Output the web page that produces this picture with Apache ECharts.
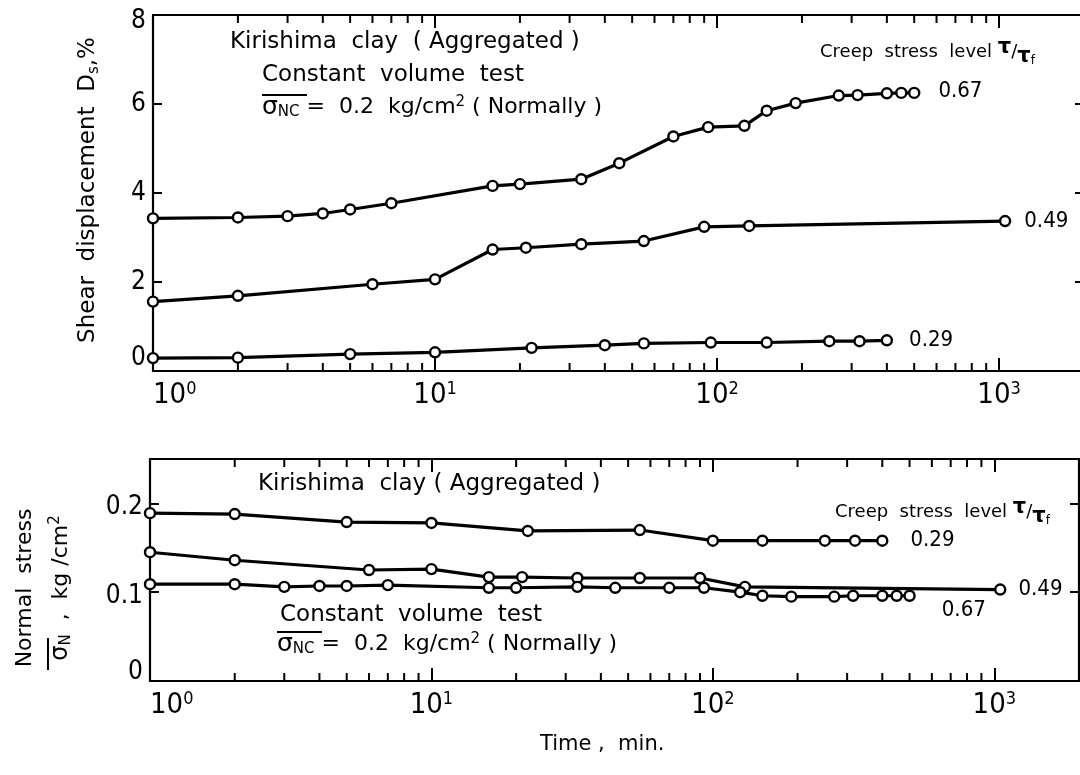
<!DOCTYPE html>
<html>
<head>
<meta charset="utf-8">
<script src="https://cdn.jsdelivr.net/npm/echarts@6/dist/echarts.min.js"></script>
<style>
  html, body { margin: 0; padding: 0; background: #fff; }
  #chart { width: 1080px; height: 775px; }
</style>
</head>
<body>
<div id="chart"></div>
<script>
// Creep tests on Kirishima clay: shear displacement (top) and normal stress (bottom) vs. elapsed time

// Elapsed time (min) at each reading
const time067 = [1, 2, 3, 4, 5, 7, 16, 20, 33, 45, 70, 93, 125, 150, 190, 270, 315, 400, 450, 500];
const time049 = [1, 2, 6, 10, 16, 21, 33, 55, 90, 130, 1050];
const time029Disp = [1, 2, 5, 10, 22, 40, 55, 95, 150, 250, 320, 400];
const time029Stress = [1, 2, 5, 10, 22, 55, 100, 150, 250, 320, 400];

// Shear displacement Ds (%)
const disp067 = [3.43, 3.45, 3.48, 3.54, 3.63, 3.77, 4.16, 4.20, 4.31, 4.67, 5.27, 5.48, 5.51, 5.85, 6.02, 6.19, 6.20, 6.24, 6.25, 6.25];
const disp049 = [1.56, 1.69, 1.95, 2.06, 2.73, 2.77, 2.85, 2.92, 3.24, 3.26, 3.37];
const disp029 = [0.29, 0.30, 0.38, 0.42, 0.52, 0.58, 0.62, 0.64, 0.64, 0.67, 0.67, 0.69];

// Normal stress (kg/cm2)
const stress029 = [0.189, 0.188, 0.179, 0.178, 0.169, 0.170, 0.158, 0.158, 0.158, 0.158, 0.158];
const stress049 = [0.145, 0.136, 0.125, 0.126, 0.117, 0.117, 0.116, 0.116, 0.116, 0.106, 0.103];
const stress067 = [0.109, 0.109, 0.106, 0.107, 0.107, 0.108, 0.105, 0.105, 0.106, 0.105, 0.105, 0.105, 0.100, 0.096, 0.095, 0.095, 0.096, 0.096, 0.096, 0.096];

// Intermediate log-cycle tick positions (min)
const minorTicks = [2, 3, 4, 5, 6, 7, 8, 9, 20, 30, 40, 50, 60, 70, 80, 90, 200, 300, 400, 500, 600, 700, 800, 900];

const dispTicks = [0, 8];
const stressTicks = [0, 0.25];

const SANS = '"DejaVu Sans", "Noto Sans", sans-serif';
const NARROW = '"DejaVu Sans Condensed", "Liberation Sans Narrow", "DejaVu Sans", sans-serif';
const INK = '#000';

const chart = echarts.init(document.getElementById('chart'));

function pairs(ts, vs) { return ts.map((t, i) => [t, vs[i]]); }

function curve(name, ts, vs, xi, yi, labelGap, labelDy) {
  const data = pairs(ts, vs);
  const last = data.length - 1;
  data[last] = {
    value: data[last],
    label: {
      show: true, position: 'right', distance: labelGap, offset: [0, labelDy],
      formatter: name, color: INK, fontSize: 22, fontFamily: NARROW
    }
  };
  return {
    name, type: 'line', xAxisIndex: xi, yAxisIndex: yi, data,
    symbol: 'circle', symbolSize: 10, z: 5,
    itemStyle: { color: '#fff', borderColor: INK, borderWidth: 2.4 },
    lineStyle: { color: INK, width: 3.2 },
    emphasis: { disabled: true }, animation: false
  };
}

function minorTickSeries(xi, yi, lo, hi) {
  return {
    type: 'custom', xAxisIndex: xi, yAxisIndex: yi, silent: true, z: 1, animation: false,
    data: minorTicks.map(t => [t, lo, hi]),
    encode: { x: 0, y: 1 },
    renderItem(params, api) {
      const t = api.value(0);
      const a = api.coord([t, api.value(1)]);
      const b = api.coord([t, api.value(2)]);
      return {
        type: 'group', children: [
          { type: 'line', shape: { x1: a[0], y1: a[1], x2: a[0], y2: a[1] - 8 }, style: { stroke: INK, lineWidth: 2 } },
          { type: 'line', shape: { x1: b[0], y1: b[1], x2: b[0], y2: b[1] + 8 }, style: { stroke: INK, lineWidth: 2 } }
        ]
      };
    }
  };
}

const decadeLabel = v => {
  const e = Math.log10(v);
  if (Math.abs(e - Math.round(e)) > 1e-6) return '';
  return '{b|10}{e|' + Math.round(e) + '}';
};

function timeAxis(gi, pos, showLabel) {
  return {
    type: 'log', logBase: 10, gridIndex: gi, position: pos, min: 1, max: 2000,
    axisLine: { show: true, onZero: false, lineStyle: { color: INK, width: 2.2 } },
    axisTick: { show: true, inside: true, length: 13, lineStyle: { color: INK, width: 2 } },
    splitLine: { show: false }, minorTick: { show: false },
    axisLabel: {
      show: showLabel, margin: 9, color: INK, alignMinLabel: 'left',
      formatter: decadeLabel,
      rich: {
        b: { fontSize: 29, fontFamily: NARROW, color: INK, lineHeight: 30 },
        e: { fontSize: 18, fontFamily: NARROW, color: INK, verticalAlign: 'top', lineHeight: 30 }
      }
    }
  };
}

// lowest label sits a little above the axis line, the top one a little below the frame
const labelRich = {
  n: { fontSize: 26, fontFamily: NARROW, color: INK },
  lowD: { fontSize: 26, fontFamily: NARROW, color: INK, padding: [0, 0, 26, 0] },
  topD: { fontSize: 26, fontFamily: NARROW, color: INK, padding: [12, 0, 0, 0] },
  lowS: { fontSize: 26, fontFamily: NARROW, color: INK, padding: [0, 0, 18, 0] },
  midS: { fontSize: 26, fontFamily: NARROW, color: INK, padding: [8, 0, 0, 0] }
};

function valueAxis(gi, pos, lo, hi, step, showLabel, fmt) {
  return {
    type: 'value', gridIndex: gi, position: pos, min: lo, max: hi, interval: step,
    axisLine: { show: true, onZero: false, lineStyle: { color: INK, width: 2.2 } },
    axisTick: { show: true, inside: true, length: 9, lineStyle: { color: INK, width: 2 } },
    splitLine: { show: false },
    axisLabel: {
      show: showLabel, margin: 7, color: INK, fontSize: 26, fontFamily: NARROW,
      showMaxLabel: true, formatter: fmt, rich: labelRich
    }
  };
}

const dispFmt = v => {
  if (v === 0) return '{lowD|0}';
  if (v === 8) return '{topD|8}';
  return '{n|' + v + '}';
};

const stressFmt = v => {
  if (Math.abs(v * 10 - Math.round(v * 10)) > 1e-6) return '';
  if (v === 0) return '{lowS|0}';
  return '{midS|' + v.toFixed(1) + '}';
};

const annRich = {
  s: { fontSize: 25, fontFamily: SANS, color: INK },
  n: { fontSize: 15, fontFamily: SANS, color: INK, verticalAlign: 'bottom', lineHeight: 24 },
  p: { fontSize: 15, fontFamily: SANS, color: INK, verticalAlign: 'top', lineHeight: 24 },
  t: { fontSize: 22, fontFamily: SANS, color: INK, lineHeight: 24 }
};

const creepRich = {
  c: { fontSize: 18, fontFamily: SANS, color: INK, lineHeight: 30 },
  hi: { fontSize: 21, fontFamily: SANS, color: INK, verticalAlign: 'top', lineHeight: 30, fontWeight: 'bold' },
  sl: { fontSize: 18, fontFamily: SANS, color: INK, lineHeight: 30 },
  lo: { fontSize: 21, fontFamily: SANS, color: INK, verticalAlign: 'bottom', lineHeight: 24, fontWeight: 'bold' },
  lf: { fontSize: 12, fontFamily: SANS, color: INK, verticalAlign: 'bottom', lineHeight: 20 }
};

function txt(x, y, text, size, rich) {
  return {
    type: 'text', x, y, silent: true,
    style: {
      text, fill: INK, fontSize: size, fontFamily: SANS, rich,
      align: 'left', verticalAlign: 'middle', textAlign: 'left', textVerticalAlign: 'middle'
    }
  };
}

function bar(x1, x2, y) {
  return { type: 'line', silent: true, shape: { x1, y1: y, x2, y2: y }, style: { stroke: INK, lineWidth: 2 } };
}

const sigmaLine = '{s|σ}{n|NC}{t| =  0.2  kg/cm}{p|2}{t| ( Normally )}';
const creepLine = '{c|Creep  stress  level }{hi|τ}{sl|/}{lo|τ}{lf|f}';

chart.setOption({
  backgroundColor: '#fff',
  animation: false,
  grid: [
    { left: 153, top: 15, width: 931, height: 356, outerBoundsMode: 'none', containLabel: false },
    { left: 150, top: 459, width: 929, height: 222, outerBoundsMode: 'none', containLabel: false }
  ],
  xAxis: [
    timeAxis(0, 'bottom', true),
    timeAxis(0, 'top', false),
    timeAxis(1, 'bottom', true),
    timeAxis(1, 'top', false)
  ],
  yAxis: [
    valueAxis(0, 'left', dispTicks[0], dispTicks[1], 2, true, dispFmt),
    valueAxis(0, 'right', dispTicks[0], dispTicks[1], 2, false),
    valueAxis(1, 'left', stressTicks[0], stressTicks[1], 0.1, true, stressFmt),
    valueAxis(1, 'right', stressTicks[0], stressTicks[1], 0.1, false)
  ],
  series: [
    minorTickSeries(0, 0, dispTicks[0], dispTicks[1]),
    minorTickSeries(2, 2, stressTicks[0], stressTicks[1]),
    curve('0.67', time067, disp067, 0, 0, 18, -2),
    curve('0.49', time049, disp049, 0, 0, 13, 0),
    curve('0.29', time029Disp, disp029, 0, 0, 16, 0),
    curve('0.29', time029Stress, stress029, 2, 2, 22, 0),
    curve('0.49', time049, stress049, 2, 2, 12, 0),
    curve('0.67', time067, stress067, 2, 2, 26, 15)
  ],
  graphic: [
    // upper panel notes
    txt(230, 42, 'Kirishima  clay  ( Aggregated )', 23),
    txt(262, 75, 'Constant  volume  test', 23),
    txt(262, 107, sigmaLine, 22, annRich),
    bar(262, 307, 95),
    txt(820, 52, creepLine, 18, creepRich),
    // lower panel notes
    txt(258, 484, 'Kirishima  clay ( Aggregated )', 23),
    txt(835, 512, creepLine, 18, creepRich),
    txt(280, 615, 'Constant  volume  test', 23),
    txt(277, 644, sigmaLine, 22, annRich),
    bar(277, 322, 632),
    // axis titles
    {
      type: 'text', x: 88, y: 190, rotation: Math.PI / 2, silent: true,
      style: {
        text: '{a|Shear  displacement  D}{b|s}{a|,%}', fill: INK,
        align: 'center', verticalAlign: 'middle', textAlign: 'center', textVerticalAlign: 'middle',
        rich: {
          a: { fontSize: 23, fontFamily: SANS, color: INK, lineHeight: 28 },
          b: { fontSize: 15, fontFamily: SANS, color: INK, verticalAlign: 'bottom', lineHeight: 22 }
        }
      }
    },
    {
      type: 'text', x: 25, y: 588, rotation: Math.PI / 2, silent: true,
      style: {
        text: 'Normal  stress', fill: INK, fontSize: 22, fontFamily: SANS,
        align: 'center', verticalAlign: 'middle', textAlign: 'center', textVerticalAlign: 'middle'
      }
    },
    {
      type: 'text', x: 61, y: 588, rotation: Math.PI / 2, silent: true,
      style: {
        text: '{s|σ}{n|N}{a|  ,  kg /cm}{p|2}', fill: INK,
        align: 'center', verticalAlign: 'middle', textAlign: 'center', textVerticalAlign: 'middle',
        rich: {
          a: { fontSize: 22, fontFamily: SANS, color: INK, lineHeight: 26 },
          s: { fontSize: 24, fontFamily: SANS, color: INK, lineHeight: 26 },
          n: { fontSize: 15, fontFamily: SANS, color: INK, verticalAlign: 'bottom', lineHeight: 22 },
          p: { fontSize: 15, fontFamily: SANS, color: INK, verticalAlign: 'top', lineHeight: 26 }
        }
      }
    },
    { type: 'line', silent: true, shape: { x1: 48, y1: 638, x2: 48, y2: 670 }, style: { stroke: INK, lineWidth: 2 } },
    txt(540, 745, 'Time ,  min.', 21)
  ]
});
</script>
</body>
</html>
